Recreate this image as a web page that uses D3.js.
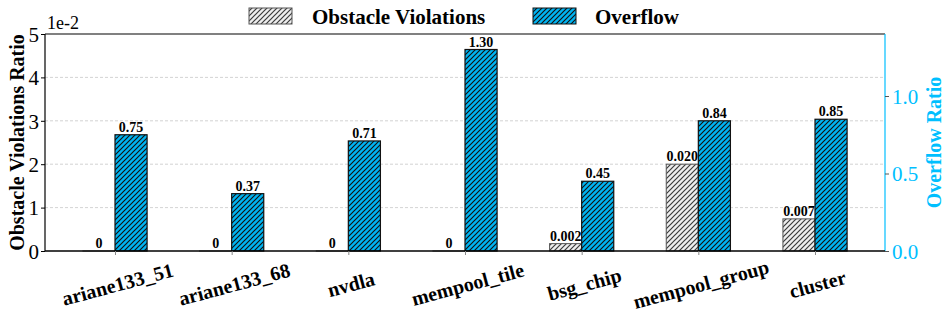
<!DOCTYPE html>
<html><head><meta charset="utf-8">
<script src="https://cdn.jsdelivr.net/npm/d3@7"></script>
<style>body{margin:0;background:#fff}svg{display:block}svg text{font-family:"Liberation Serif","Times New Roman",serif !important}</style>
</head><body><svg id="c" width="947" height="318"></svg>
<script>
const categories = ["ariane133_51","ariane133_68","nvdla","mempool_tile","bsg_chip","mempool_group","cluster"];
const obstacle = [0, 0, 0, 0, 0.0017, 0.0200, 0.0074];
const obstacleLabels = ["0","0","0","0","0.002","0.020","0.007"];
const overflow = [0.75, 0.37, 0.71, 1.30, 0.45, 0.84, 0.85];
const overflowLabels = ["0.75","0.37","0.71","1.30","0.45","0.84","0.85"];
const leftTicks = [0,1,2,3,4,5];
const rightTicks = [0.0,0.5,1.0];

const svg = d3.select("#c");
const L=45,R=885,T=34,B=251;
const blue="#00B4F2", cyan="#00BFFF";
const x = d3.scaleLinear().domain([-0.6, 6.6]).range([L,R]);
const yL = d3.scaleLinear().domain([0,0.05]).range([B,T]);
const yR = d3.scaleLinear().domain([0,1.4]).range([B,T]);
const bw = 0.275;

const defs = svg.append("defs");
function hatch(id, bg, fg, w){
  const s=5;
  const p = defs.append("pattern").attr("id",id).attr("patternUnits","userSpaceOnUse")
    .attr("width",s).attr("height",s);
  p.append("rect").attr("width",s).attr("height",s).attr("fill",bg);
  p.append("path").attr("d",`M-1,1 l2,-2 M0,${s} l${s},-${s} M${s-1},${s+1} l2,-2`).attr("stroke",fg).attr("stroke-width",w);
}
hatch("hg","#eeeeee","#3a3a3a",1.2);
hatch("hb",blue,"#111",1.15);

// grid
svg.append("g").selectAll("line").data(leftTicks.filter(d=>d>0&&d<5)).join("line")
  .attr("x1",L).attr("x2",R).attr("y1",d=>yL(d/100)).attr("y2",d=>yL(d/100))
  .attr("stroke","#c8c8c8").attr("stroke-width",0.8).attr("stroke-dasharray","3,2");

// bars
const idx = d3.range(categories.length);
svg.append("g").selectAll("rect").data(idx).join("rect")
  .attr("x",i=>x(i-bw)).attr("width",x(bw)-x(0))
  .attr("y",i=>yL(obstacle[i])-0.01).attr("height",i=>B-yL(obstacle[i])+0.01)
  .attr("fill","url(#hg)").attr("stroke","#555").attr("stroke-width",1);
svg.append("g").selectAll("rect").data(idx).join("rect")
  .attr("x",i=>x(i)).attr("width",x(bw)-x(0))
  .attr("y",i=>yR(overflow[i])).attr("height",i=>B-yR(overflow[i]))
  .attr("fill","url(#hb)").attr("stroke","#111").attr("stroke-width",1.2);

// value labels
svg.append("g").selectAll("text").data(idx).join("text")
  .attr("x",i=>x(i-bw/2)).attr("y",i=>yL(obstacle[i])-3)
  .attr("text-anchor","middle").attr("font-size",14).attr("font-weight","bold")
  .text(i=>obstacleLabels[i]);
svg.append("g").selectAll("text").data(idx).join("text")
  .attr("x",i=>x(i+bw/2)).attr("y",i=>yR(overflow[i])-3)
  .attr("text-anchor","middle").attr("font-size",14).attr("font-weight","bold")
  .text(i=>overflowLabels[i]);

// spines
svg.append("line").attr("x1",L).attr("x2",R).attr("y1",T).attr("y2",T).attr("stroke","#808080").attr("stroke-width",2);
svg.append("line").attr("x1",R).attr("x2",R).attr("y1",T).attr("y2",B).attr("stroke",cyan).attr("stroke-width",1.2);

// left axis
const gl = svg.append("g").attr("transform",`translate(${L},0)`)
  .call(d3.axisLeft(yL).tickValues(leftTicks.map(d=>d/100)).tickFormat((d,i)=>leftTicks[i]).tickSize(4).tickPadding(2));
gl.select(".domain").attr("stroke","#000").attr("stroke-width",1.2).attr("d",`M0,${B}V${T}`);
gl.selectAll("text").attr("font-size",21).attr("fill","#000").attr("dy","0.35em");
svg.append("text").attr("x",L+2).attr("y",29).attr("font-size",18).text("1e-2");
svg.append("text").attr("transform",`translate(17,${(T+B)/2}) rotate(-90)`).attr("text-anchor","middle").attr("dy","0.35em")
  .attr("font-size",20).attr("font-weight","bold").text("Obstacle Violations Ratio");

// right axis
const gr = svg.append("g").attr("transform",`translate(${R},0)`)
  .call(d3.axisRight(yR).tickValues(rightTicks).tickFormat(d3.format(".1f")).tickSize(4).tickPadding(3));
gr.select(".domain").remove();
gr.selectAll("line").attr("stroke","#555");
gr.selectAll("text").attr("font-size",21).attr("fill",cyan).attr("dy","0.35em");
svg.append("text").attr("transform",`translate(934,${(T+B)/2}) rotate(-90)`).attr("text-anchor","middle").attr("dy","0.35em")
  .attr("font-size",20).attr("font-weight","bold").attr("fill",cyan).text("Overflow Ratio");

// bottom axis
const gb = svg.append("g").attr("transform",`translate(0,${B})`)
  .call(d3.axisBottom(x).tickValues(idx).tickFormat(i=>categories[i]).tickSize(4).tickPadding(0));
gb.select(".domain").attr("stroke","#000").attr("stroke-width",1.5).attr("d",`M${L},0H${R}`);
gb.selectAll("line").attr("stroke","#888");
gb.selectAll("text").attr("font-size",20).attr("font-weight","bold")
  .attr("fill","#000").attr("text-anchor","middle").attr("dy",0).attr("y",0)
  .attr("transform","translate(4,40) rotate(-15)");

// legend
const lg = svg.append("g");
lg.append("rect").attr("x",249).attr("y",8).attr("width",43).attr("height",16).attr("fill","url(#hg)").attr("stroke","#555");
lg.append("text").attr("x",312).attr("y",24).attr("font-size",21).attr("font-weight","bold").text("Obstacle Violations");
lg.append("rect").attr("x",533).attr("y",8).attr("width",43).attr("height",16).attr("fill","url(#hb)").attr("stroke","#111");
lg.append("text").attr("x",595).attr("y",24).attr("font-size",21).attr("font-weight","bold").text("Overflow");
</script></body></html>
